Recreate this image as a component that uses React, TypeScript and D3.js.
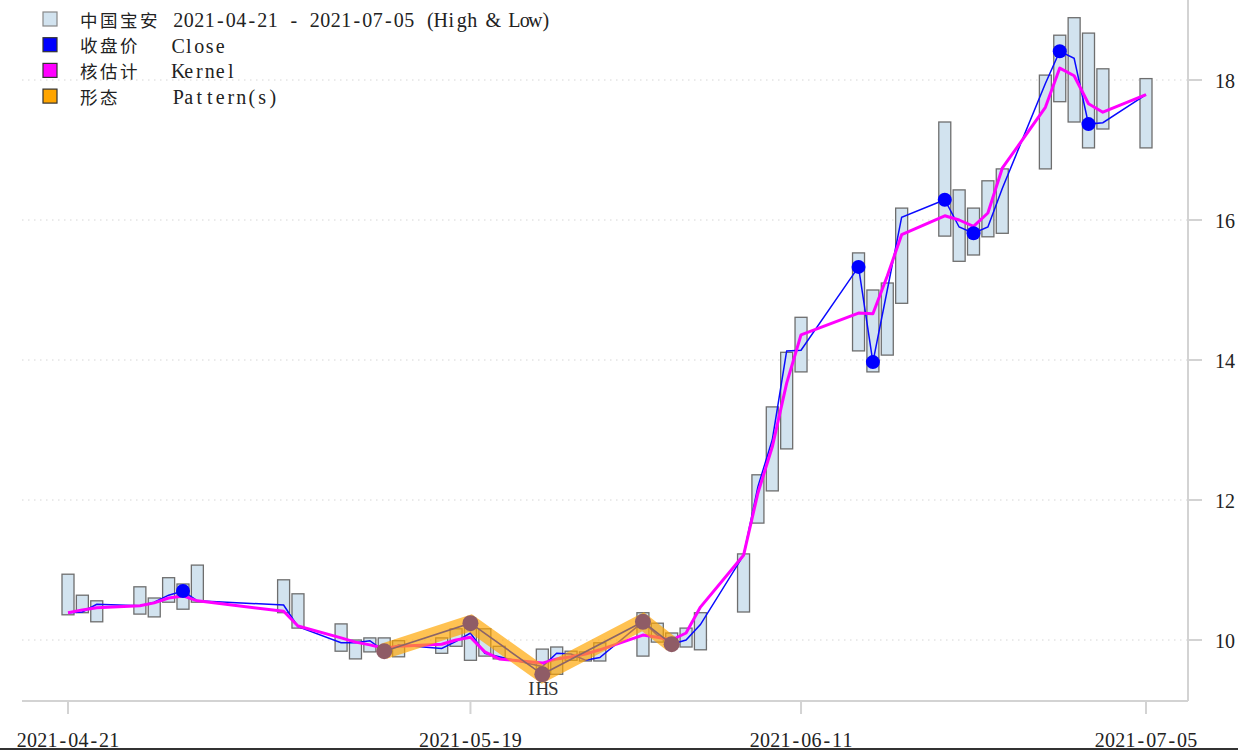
import { useEffect, useRef } from "react";
import * as d3 from "d3";

// trading days shown on the chart
const dates = [
  "2021-04-21", "2021-04-22", "2021-04-23", "2021-04-26", "2021-04-27", "2021-04-28", "2021-04-29", "2021-04-30",
  "2021-05-06", "2021-05-07", "2021-05-10", "2021-05-11", "2021-05-12", "2021-05-13", "2021-05-14",
  "2021-05-17", "2021-05-18", "2021-05-19", "2021-05-20", "2021-05-21",
  "2021-05-24", "2021-05-25", "2021-05-26", "2021-05-27", "2021-05-28",
  "2021-05-31", "2021-06-01", "2021-06-02", "2021-06-03", "2021-06-04",
  "2021-06-07", "2021-06-08", "2021-06-09", "2021-06-10", "2021-06-11",
  "2021-06-15", "2021-06-16", "2021-06-17", "2021-06-18",
  "2021-06-21", "2021-06-22", "2021-06-23", "2021-06-24", "2021-06-25",
  "2021-06-28", "2021-06-29", "2021-06-30", "2021-07-01", "2021-07-02", "2021-07-05",
];

const high = [
  10.94, 10.64, 10.56, 10.76, 10.6, 10.89, 10.8, 11.07,
  10.86, 10.66, 10.23, 10.0, 10.03, 10.03, 9.99,
  10.03, 10.16, 10.29, 10.16, 9.91,
  9.87, 9.9, 9.84, 9.83, 9.96,
  10.39, 10.24, 10.1, 10.17, 10.39,
  11.23, 12.36, 13.33, 14.11, 14.61,
  15.53, 15.0, 15.1, 16.17,
  17.4, 16.43, 16.17, 16.56, 16.73,
  18.07, 18.64, 18.89, 18.67, 18.16, 18.02,
];

const low = [
  10.36, 10.39, 10.26, 10.37, 10.33, 10.54, 10.44, 10.54,
  10.39, 10.17, 9.84, 9.73, 9.83, 9.81, 9.76,
  9.81, 9.91, 9.71, 9.77, 9.73,
  9.54, 9.51, 9.71, 9.7, 9.7,
  9.77, 9.97, 9.9, 9.9, 9.86,
  10.4, 11.67, 12.13, 12.73, 13.83,
  14.13, 13.83, 14.07, 14.81,
  15.77, 15.41, 15.5, 15.76, 15.81,
  16.73, 17.69, 17.4, 17.03, 17.3, 17.03,
];

const close = [
  10.39, 10.4, 10.51, 10.49, 10.54, 10.64, 10.7, 10.56,
  10.5, 10.19, 9.96, 9.96, 9.99, 9.84, 9.93,
  9.88, 9.98, 10.1, 9.81, 9.76,
  9.62, 9.81, 9.8, 9.71, 9.75,
  10.26, 10.07, 9.94, 10.0, 10.22,
  11.21, 12.19, 12.86, 14.13, 14.14,
  15.33, 13.97, 15.0, 16.04,
  16.29, 15.9, 15.81, 15.9, 16.45,
  17.95, 18.41, 18.31, 17.37, 17.39, 17.79,
];

const kernel = [
  10.39, 10.43, 10.46, 10.49, 10.53, 10.6, 10.63, 10.56,
  10.41, 10.2, 10.03, 9.97, 9.93, 9.88, 9.91,
  9.94, 10.0, 10.04, 9.83, 9.73,
  9.67, 9.73, 9.76, 9.8, 9.86,
  10.07, 10.04, 10.0, 10.1, 10.47,
  11.21, 12.1, 12.76, 13.67, 14.36,
  14.67, 14.66, 15.2, 15.79,
  16.06, 16.0, 15.91, 16.1, 16.74,
  17.61, 18.17, 18.06, 17.66, 17.54, 17.79,
];

// highlighted closes (kernel extrema)
const markerDates = ["2021-04-29", "2021-06-15", "2021-06-16", "2021-06-21", "2021-06-23", "2021-06-29", "2021-07-01"];

// inverse head & shoulders
const patternDates = ["2021-05-13", "2021-05-19", "2021-05-24", "2021-05-31", "2021-06-02"];
const patternValues = [9.84, 10.24, 9.51, 10.26, 9.94];
const patternLabel = "IHS";

const xTicks = ["2021-04-21", "2021-05-19", "2021-06-11", "2021-07-05"];
const yTicks = [10, 12, 14, 16, 18];

const legendItems = [
  { cn: "中国宝安", en: "2021-04-21 - 2021-07-05 (High & Low)", color: "#d2e3ef", border: "#888" },
  { cn: "收盘价", en: "Close", color: "#0000ff", border: "#333" },
  { cn: "核估计", en: "Kernel", color: "#ff00ff", border: "#333" },
  { cn: "形态", en: "Pattern(s)", color: "#ffa500", border: "#333" },
];

const W = 1248;
const H = 756;
const SERIF = "'Liberation Serif', 'DejaVu Serif', serif";
const CJK = "'Noto Sans CJK SC', sans-serif";

const parse = d3.utcParse("%Y-%m-%d");

// draw a string with one fixed-width cell per char (mono look)
function monoText(
  g: d3.Selection<SVGGElement, unknown, null, undefined>,
  s: string,
  x0: number,
  y: number,
  cell: number,
  size: number,
  fill = "#222",
) {
  const t = g
    .append("text")
    .attr("x", x0 + cell / 2)
    .attr("y", y)
    .attr("font-family", SERIF)
    .attr("font-size", size)
    .attr("fill", fill)
    .attr("text-anchor", "middle")
    .attr("dominant-baseline", "central");
  s.split("").forEach((ch, i) => {
    if (ch === " ") return;
    t.append("tspan").attr("x", x0 + i * cell + cell / 2).attr("y", y).text(ch);
  });
}

export default function App() {
  const svgRef = useRef<SVGSVGElement>(null);

  useEffect(() => {
    const svg = d3.select(svgRef.current);
    svg.selectAll("*").remove();

    const left = 22;
    const right = 1188;
    const bottom = 701;

    const x = d3
      .scaleUtc()
      .domain([parse("2021-04-21")!, parse("2021-07-05")!])
      .range([68, 1146]);
    const y = d3.scaleLinear().domain([10, 18]).range([640, 80]);

    const rows = dates.map((d, i) => ({
      t: parse(d)!,
      key: d,
      hi: high[i],
      lo: low[i],
      c: close[i],
      k: kernel[i],
    }));

    const g = svg.append("g");

    // grid
    g.selectAll("line.grid")
      .data(yTicks)
      .join("line")
      .attr("x1", left)
      .attr("x2", right)
      .attr("y1", (d) => y(d))
      .attr("y2", (d) => y(d))
      .attr("stroke", "#d6d6d6")
      .attr("stroke-width", 1)
      .attr("stroke-dasharray", "1.5 4.5");

    // axes frame
    g.append("line")
      .attr("x1", left)
      .attr("x2", right)
      .attr("y1", bottom)
      .attr("y2", bottom)
      .attr("stroke", "#d3d3d3")
      .attr("stroke-width", 2);
    g.append("line")
      .attr("x1", right)
      .attr("x2", right)
      .attr("y1", 0)
      .attr("y2", bottom)
      .attr("stroke", "#d3d3d3")
      .attr("stroke-width", 2);

    // x ticks
    xTicks.forEach((d) => {
      const px = x(parse(d)!);
      g.append("line")
        .attr("x1", px)
        .attr("x2", px)
        .attr("y1", bottom)
        .attr("y2", bottom + 13)
        .attr("stroke", "#d3d3d3")
        .attr("stroke-width", 2);
      const cell = 10.3;
      monoText(g, d, px - (cell * d.length) / 2, 740, cell, 20);
    });

    // y ticks
    yTicks.forEach((v) => {
      g.append("line")
        .attr("x1", right)
        .attr("x2", right + 14)
        .attr("y1", y(v))
        .attr("y2", y(v))
        .attr("stroke", "#d3d3d3")
        .attr("stroke-width", 2);
      g.append("text")
        .attr("x", 1215)
        .attr("y", y(v) + 1)
        .attr("font-family", SERIF)
        .attr("font-size", 20)
        .attr("fill", "#222")
        .attr("dominant-baseline", "central")
        .text(String(v));
    });

    // high-low bars
    const bw = 12;
    g.selectAll("rect.bar")
      .data(rows)
      .join("rect")
      .attr("x", (d) => x(d.t) - bw / 2)
      .attr("y", (d) => y(d.hi))
      .attr("width", bw)
      .attr("height", (d) => y(d.lo) - y(d.hi))
      .attr("fill", "#d2e3ef")
      .attr("stroke", "#6e6e6e")
      .attr("stroke-width", 1.3);

    // close line
    const line = d3
      .line<{ t: Date; v: number }>()
      .x((d) => x(d.t))
      .y((d) => y(d.v));
    g.append("path")
      .attr("d", line(rows.map((r) => ({ t: r.t, v: r.c }))))
      .attr("fill", "none")
      .attr("stroke", "#0a0aff")
      .attr("stroke-width", 1.5);

    // kernel line
    g.append("path")
      .attr("d", line(rows.map((r) => ({ t: r.t, v: r.k }))))
      .attr("fill", "none")
      .attr("stroke", "#ff00ff")
      .attr("stroke-width", 3)
      .attr("stroke-linejoin", "round");

    // pattern band
    const pat = patternDates.map((d, i) => ({ t: parse(d)!, v: patternValues[i] }));
    g.append("path")
      .attr("d", line(pat))
      .attr("fill", "none")
      .attr("stroke", "#ffa500")
      .attr("stroke-opacity", 0.68)
      .attr("stroke-width", 16)
      .attr("stroke-linejoin", "miter");
    g.append("path")
      .attr("d", line(pat))
      .attr("fill", "none")
      .attr("stroke", "#8a6468")
      .attr("stroke-width", 1.6);
    g.selectAll("circle.pat")
      .data(pat)
      .join("circle")
      .attr("cx", (d) => x(d.t))
      .attr("cy", (d) => y(d.v))
      .attr("r", 8)
      .attr("fill", "#8f5c66");
    const head = pat[2];
    monoText(g, patternLabel, x(head.t) - 16.5, y(head.v) + 14, 11, 19, "#333");

    // close markers
    const marks = rows.filter((r) => markerDates.includes(r.key));
    g.selectAll("circle.mk")
      .data(marks)
      .join("circle")
      .attr("cx", (d) => x(d.t))
      .attr("cy", (d) => y(d.c))
      .attr("r", 7)
      .attr("fill", "#0000ff");

    // legend
    legendItems.forEach((it, i) => {
      const cy = 19 + i * 25.7;
      g.append("rect")
        .attr("x", 43)
        .attr("y", cy - 7)
        .attr("width", 14)
        .attr("height", 14)
        .attr("fill", it.color)
        .attr("stroke", it.border)
        .attr("stroke-width", 1.2);
      g.append("text")
        .attr("x", 80)
        .attr("y", cy)
        .attr("font-family", CJK)
        .attr("font-size", 17.5)
        .attr("letter-spacing", 2.5)
        .attr("fill", "#222")
        .attr("dominant-baseline", "central")
        .text(it.cn);
      monoText(g, it.en, 173, cy + 1, 10.5, 20);
    });

    // figure bottom border
    g.append("line")
      .attr("x1", 0)
      .attr("x2", 1238)
      .attr("y1", 749)
      .attr("y2", 749)
      .attr("stroke", "#333")
      .attr("stroke-width", 2);
  }, []);

  return (
    <svg
      ref={svgRef}
      width={W}
      height={H}
      style={{ position: "absolute", left: 0, top: 0, background: "#fff" }}
    />
  );
}
